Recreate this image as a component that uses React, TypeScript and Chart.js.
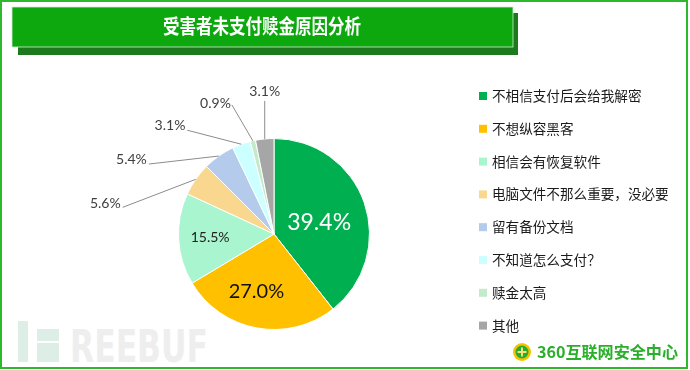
import React, { useEffect, useRef } from "react";
import { Chart, registerables } from "chart.js";

Chart.register(...registerables);

const TITLE = "受害者未支付赎金原因分析";
const categories = [
  "不相信支付后会给我解密",
  "不想纵容黑客",
  "相信会有恢复软件",
  "电脑文件不那么重要，没必要",
  "留有备份文档",
  "不知道怎么支付？",
  "赎金太高",
  "其他",
];
const values = [39.4, 27.0, 15.5, 5.6, 5.4, 3.1, 0.9, 3.1];
const valueLabels = ["39.4%", "27.0%", "15.5%", "5.6%", "5.4%", "3.1%", "0.9%", "3.1%"];
const colors = ["#00B050", "#FFC000", "#A9F5CF", "#F9D78E", "#B4CBEB", "#CCFFFF", "#C3EBCB", "#A6A6A6"];
const WATERMARK = "REEBUF";
const BRAND = "360互联网安全中心";

// label styling (inside: radial fraction + nudge; outside: leader line / text offsets from arc edge)
type LabelStyle =
  | { kind: "in"; frac: number; dx: number; dy: number; size: number; color: string }
  | { kind: "out"; lx: number; ly: number; tx: number; ty: number; align: CanvasTextAlign };
const labelStyles: LabelStyle[] = [
  { kind: "in", frac: 0.5, dx: 0, dy: 4, size: 23, color: "#ffffff" },
  { kind: "in", frac: 0.61, dx: -7, dy: 0, size: 20, color: "#111111" },
  { kind: "in", frac: 0.67, dx: 0, dy: 0, size: 14, color: "#222222" },
  { kind: "out", lx: -73, ly: 28, tx: -75, ty: 24, align: "right" },
  { kind: "out", lx: -70, ly: 8, tx: -72, ty: 3, align: "right" },
  { kind: "out", lx: -54, ly: -14, tx: -56, ty: -19, align: "right" },
  { kind: "out", lx: -21, ly: -36, tx: -22, ty: -37, align: "right" },
  { kind: "out", lx: 0, ly: -38, tx: 0, ty: -47, align: "center" },
];

const NUM_FONT = "Lato, 'Noto Sans', sans-serif";
const CJK_FONT = "'Noto Sans CJK SC', 'Noto Sans', sans-serif";

const labelPlugin = {
  id: "pieLabels",
  afterDatasetsDraw(chart: any) {
    const ctx: CanvasRenderingContext2D = chart.ctx;
    const meta = chart.getDatasetMeta(0);
    meta.data.forEach((el: any, i: number) => {
      const p = el.getProps(["x", "y", "startAngle", "endAngle", "outerRadius"], true);
      const mid = (p.startAngle + p.endAngle) / 2;
      const st = labelStyles[i];
      ctx.save();
      ctx.textBaseline = "middle";
      if (st.kind === "in") {
        const r = p.outerRadius * st.frac;
        const x = p.x + Math.cos(mid) * r + st.dx;
        const y = p.y + Math.sin(mid) * r + st.dy;
        ctx.font = `${st.size}px ${NUM_FONT}`;
        ctx.fillStyle = st.color;
        ctx.textAlign = "center";
        ctx.fillText(valueLabels[i], x, y);
      } else {
        const ex = p.x + Math.cos(mid) * p.outerRadius;
        const ey = p.y + Math.sin(mid) * p.outerRadius;
        ctx.strokeStyle = "#8c8c8c";
        ctx.lineWidth = 1;
        ctx.beginPath();
        ctx.moveTo(ex, ey);
        ctx.lineTo(ex + st.lx, ey + st.ly);
        ctx.stroke();
        ctx.font = `14px ${NUM_FONT}`;
        ctx.fillStyle = "#404040";
        ctx.textAlign = st.align;
        ctx.fillText(valueLabels[i], ex + st.tx, ey + st.ty);
      }
      ctx.restore();
    });
  },
};

export default function App() {
  const ref = useRef<HTMLCanvasElement | null>(null);

  useEffect(() => {
    document.body.style.margin = "0";
    if (!ref.current) return;
    const chart = new Chart(ref.current, {
      type: "pie",
      data: {
        labels: categories,
        datasets: [
          {
            data: values,
            backgroundColor: colors,
            borderColor: "#ffffff",
            borderWidth: 1,
          },
        ],
      },
      options: {
        animation: false,
        responsive: false,
        maintainAspectRatio: false,
        layout: { padding: { left: 178, right: 320, top: 138, bottom: 40 } },
        plugins: { legend: { display: false }, tooltip: { enabled: false } },
      },
      plugins: [labelPlugin],
    });
    return () => chart.destroy();
  }, []);

  return (
    <div style={{ position: "relative", width: 690, height: 370, background: "#fff", overflow: "hidden" }}>
      <svg width={690} height={370} style={{ position: "absolute", left: 0, top: 0 }}>
        {/* watermark */}
        <rect x={18} y={321} width={10} height={41} fill="#DDEEE6" />
        <rect x={37} y={329} width={22} height={12} fill="#DDEEE6" />
        <rect x={37} y={343} width={22} height={19} fill="#DDEEE6" />
        <text
          x={70}
          y={362}
          fontFamily="'DejaVu Sans', sans-serif"
          fontWeight="bold"
          fontSize={44}
          fill="#EEEEEE"
          textLength={138}
          lengthAdjust="spacingAndGlyphs"
        >
          {WATERMARK}
        </text>
      </svg>
      <canvas ref={ref} width={690} height={370} style={{ position: "absolute", left: 0, top: 0 }} />
      <svg width={690} height={370} style={{ position: "absolute", left: 0, top: 0, pointerEvents: "none" }}>
        {/* outer frame */}
        <rect x={1} y={1} width={686} height={367} fill="none" stroke="#2EB82E" strokeWidth={2} />
        {/* title bar */}
        <rect x={18} y={13} width={500} height={42} fill="#1C7A1C" />
        <rect x={12} y={7} width={501} height={40} fill="#0DA80D" stroke="#d8e8d8" strokeWidth={0.8} />
        <text
          x={262}
          y={34}
          textAnchor="middle"
          fontFamily={CJK_FONT}
          fontWeight="bold"
          fontSize={20}
          fill="#ffffff"
          textLength={198}
          lengthAdjust="spacingAndGlyphs"
        >
          {TITLE}
        </text>
        {/* legend */}
        {categories.map((c, i) => {
          const cy = 96 + i * 32.8;
          return (
            <g key={c}>
              <rect x={479} y={cy - 4} width={8} height={8} fill={colors[i]} />
              <text x={492} y={cy + 5} fontFamily={CJK_FONT} fontSize={13.6} fill="#1a1a1a">
                {c}
              </text>
            </g>
          );
        })}
        {/* 360 logo */}
        <circle cx={522} cy={352} r={9} fill="#F5C400" />
        <circle cx={522} cy={352} r={6.5} fill="#2BAA2B" />
        <path d="M522 347.5 V356.5 M517.5 352 H526.5" stroke="#F5E27A" strokeWidth={2} />
        <text
          x={537}
          y={358}
          fontFamily={CJK_FONT}
          fontWeight="bold"
          fontSize={16}
          fill="#2AAF2A"
          textLength={141}
          lengthAdjust="spacingAndGlyphs"
        >
          {BRAND}
        </text>
      </svg>
    </div>
  );
}
